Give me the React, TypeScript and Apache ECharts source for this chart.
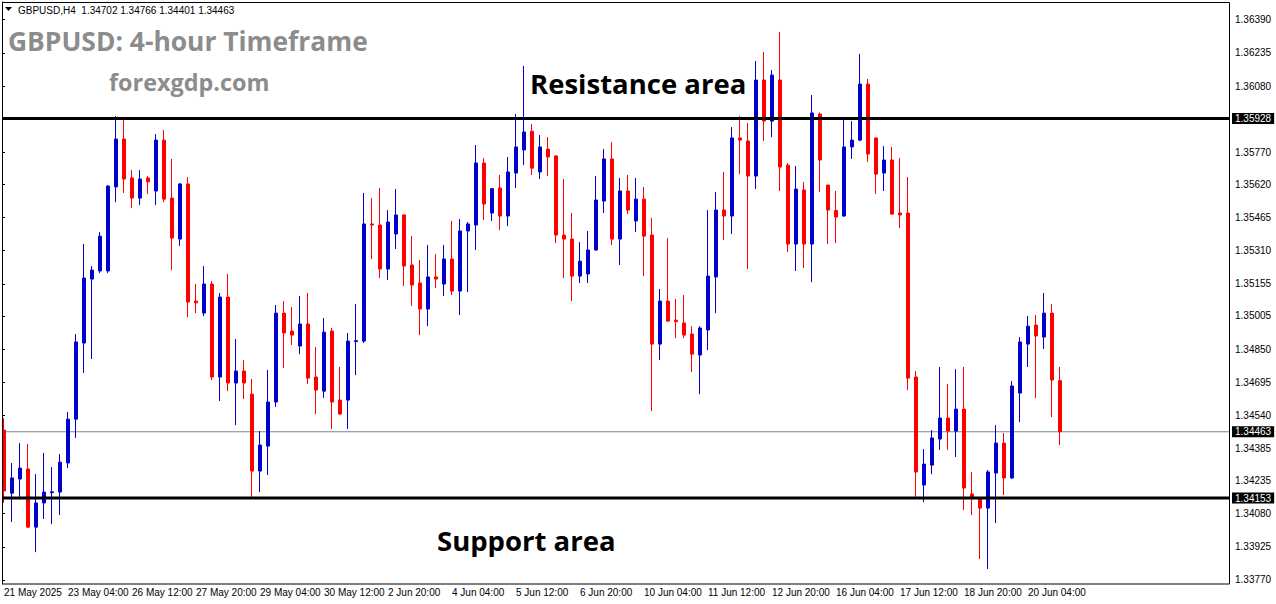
import React, { useEffect, useRef } from 'react';
import * as echarts from 'echarts';

// OHLC of each H4 candle, from 21 May 20:00 to 20 Jun 20:00 (133 candles)
const candleOpen = [
  1.34471, 1.34176, 1.34242, 1.34289, 1.34017, 1.34130, 1.34178, 1.34181, 1.34317, 1.34522, 1.34878, 1.35177, 1.35215,
  1.35215, 1.35608, 1.35832, 1.35650, 1.35556, 1.35650, 1.35589, 1.35827, 1.35556, 1.35364, 1.35622, 1.35074,
  1.35018, 1.35154, 1.34719, 1.35093, 1.34691, 1.34747, 1.34639, 1.34279, 1.34396, 1.34602, 1.35018, 1.34934,
  1.34864, 1.34967, 1.34719, 1.34653, 1.34934, 1.34611, 1.34611, 1.34885, 1.34887, 1.35435, 1.35430, 1.35224,
  1.35388, 1.35477, 1.35243, 1.35159, 1.35037, 1.35187, 1.35154, 1.35271, 1.35121, 1.35402, 1.35430, 1.35720,
  1.35486, 1.35603, 1.35472, 1.35673, 1.35781, 1.35868, 1.35678, 1.35785, 1.35753, 1.35383, 1.35364, 1.35191,
  1.35201, 1.35313, 1.35542, 1.35739, 1.35364, 1.35589, 1.35449, 1.35551, 1.35383, 1.34873, 1.35074, 1.34985,
  1.34972, 1.34920, 1.34822, 1.34939, 1.35187, 1.35500, 1.35472, 1.35837, 1.35823, 1.35659, 1.36108, 1.35916,
  1.36108, 1.35710, 1.35341, 1.35594, 1.35341, 1.35949, 1.35617, 1.35498, 1.35472, 1.35795, 1.35827, 1.36089,
  1.35837, 1.35673, 1.35734, 1.35486, 1.35486, 1.34719, 1.34214, 1.34307, 1.34429, 1.34527, 1.34466, 1.34569,
  1.34172, 1.34148, 1.34106, 1.34270, 1.34410, 1.34247, 1.34644, 1.34873, 1.34962, 1.34906, 1.35018, 1.34702,
];
const candleHigh = [
  1.34527, 1.34317, 1.34410, 1.34406, 1.34265, 1.34364, 1.34298, 1.34359, 1.34555, 1.34920, 1.35341, 1.35238, 1.35397,
  1.35617, 1.35940, 1.35926, 1.35687, 1.35687, 1.35659, 1.35855, 1.35874, 1.35739, 1.35626, 1.35654, 1.35154,
  1.35238, 1.35168, 1.35112, 1.35201, 1.34897, 1.34798, 1.34710, 1.34466, 1.34752, 1.35056, 1.35074, 1.35046,
  1.35098, 1.35112, 1.34859, 1.34995, 1.34948, 1.34766, 1.34925, 1.35060, 1.35580, 1.35556, 1.35603, 1.35500,
  1.35598, 1.35481, 1.35378, 1.35266, 1.35336, 1.35294, 1.35336, 1.35449, 1.35458, 1.35444, 1.35804, 1.35743,
  1.35603, 1.35664, 1.35748, 1.35949, 1.36174, 1.35902, 1.35851, 1.35841, 1.35756, 1.35645, 1.35486, 1.35350,
  1.35402, 1.35659, 1.35785, 1.35818, 1.35650, 1.35664, 1.35650, 1.35608, 1.35463, 1.35131, 1.35369, 1.35084,
  1.35102, 1.34957, 1.34957, 1.35500, 1.35584, 1.35678, 1.35888, 1.35940, 1.35907, 1.36197, 1.36239, 1.36155,
  1.36333, 1.35720, 1.35706, 1.35631, 1.36038, 1.35956, 1.35617, 1.35589, 1.35921, 1.35916, 1.36230, 1.36113,
  1.35840, 1.35799, 1.35795, 1.35743, 1.35654, 1.34747, 1.34382, 1.34471, 1.34766, 1.34686, 1.34756, 1.34766,
  1.34275, 1.34150, 1.34284, 1.34494, 1.34457, 1.34700, 1.34906, 1.35004, 1.35009, 1.35112, 1.35060, 1.34766,
];
const candleLow = [
  1.34130, 1.34041, 1.34158, 1.34013, 1.33900, 1.34055, 1.34031, 1.34074, 1.34293, 1.34434, 1.34738, 1.34803, 1.35205,
  1.35205, 1.35537, 1.35580, 1.35509, 1.35523, 1.35575, 1.35523, 1.35537, 1.35219, 1.35332, 1.34999, 1.35018,
  1.35004, 1.34705, 1.34607, 1.34653, 1.34494, 1.34616, 1.34153, 1.34181, 1.34261, 1.34579, 1.34761, 1.34869,
  1.34826, 1.34686, 1.34546, 1.34621, 1.34476, 1.34541, 1.34476, 1.34728, 1.34878, 1.35271, 1.35182, 1.35173,
  1.35318, 1.35145, 1.35051, 1.34915, 1.34957, 1.35135, 1.35098, 1.35102, 1.35009, 1.35117, 1.35313, 1.35453,
  1.35449, 1.35406, 1.35425, 1.35603, 1.35710, 1.35664, 1.35645, 1.35659, 1.35346, 1.35182, 1.35074, 1.35159,
  1.35159, 1.35310, 1.35486, 1.35336, 1.35243, 1.35481, 1.35397, 1.35191, 1.34560, 1.34798, 1.34976, 1.34901,
  1.34901, 1.34742, 1.34639, 1.34845, 1.35018, 1.35360, 1.35388, 1.35668, 1.35224, 1.35598, 1.35823, 1.35841,
  1.35589, 1.35304, 1.35215, 1.35229, 1.35163, 1.35584, 1.35341, 1.35346, 1.35468, 1.35739, 1.35822, 1.35725,
  1.35575, 1.35589, 1.35478, 1.35416, 1.34658, 1.34158, 1.34134, 1.34265, 1.34378, 1.34378, 1.34345, 1.34097,
  1.34074, 1.33868, 1.33821, 1.34036, 1.34167, 1.34242, 1.34508, 1.34766, 1.34621, 1.34850, 1.34532, 1.34401,
];
const candleClose = [
  1.34186, 1.34247, 1.34293, 1.34017, 1.34130, 1.34181, 1.34182, 1.34321, 1.34522, 1.34883, 1.35182, 1.35219, 1.35378,
  1.35612, 1.35832, 1.35645, 1.35556, 1.35645, 1.35632, 1.35827, 1.35551, 1.35369, 1.35622, 1.35070, 1.35066,
  1.35154, 1.34719, 1.35093, 1.34691, 1.34747, 1.34691, 1.34279, 1.34401, 1.34602, 1.35018, 1.34925, 1.34915,
  1.34967, 1.34714, 1.34658, 1.34929, 1.34602, 1.34546, 1.34887, 1.34889, 1.35435, 1.35430, 1.35224, 1.35444,
  1.35477, 1.35238, 1.35149, 1.35037, 1.35187, 1.35177, 1.35271, 1.35121, 1.35402, 1.35435, 1.35720, 1.35528,
  1.35600, 1.35472, 1.35678, 1.35795, 1.35865, 1.35696, 1.35795, 1.35748, 1.35383, 1.35364, 1.35191, 1.35261,
  1.35313, 1.35547, 1.35739, 1.35364, 1.35589, 1.35500, 1.35551, 1.35378, 1.34873, 1.35074, 1.34981, 1.34978,
  1.34915, 1.34826, 1.34948, 1.35191, 1.35500, 1.35472, 1.35837, 1.35827, 1.35659, 1.36108, 1.35916, 1.36131,
  1.35701, 1.35341, 1.35598, 1.35341, 1.35954, 1.35734, 1.35500, 1.35467, 1.35795, 1.35827, 1.36089, 1.35762,
  1.35668, 1.35734, 1.35481, 1.35477, 1.34714, 1.34275, 1.34312, 1.34434, 1.34527, 1.34466, 1.34569, 1.34200,
  1.34158, 1.34106, 1.34275, 1.34410, 1.34247, 1.34677, 1.34883, 1.34957, 1.34911, 1.35018, 1.34705, 1.34463,
];

const slotCount = 153; // candle slots visible incl. empty right margin
const xTickIndex = [0, 8, 16, 24, 32, 40, 48, 56, 64, 72, 80, 88, 96, 104, 112, 120, 128];
const xTickLabels = [
  '21 May 2025', '23 May 04:00', '26 May 12:00', '27 May 20:00', '29 May 04:00', '30 May 12:00',
  '2 Jun 20:00', '4 Jun 04:00', '5 Jun 12:00', '6 Jun 20:00', '10 Jun 04:00', '11 Jun 12:00',
  '12 Jun 20:00', '16 Jun 04:00', '17 Jun 12:00', '18 Jun 20:00', '20 Jun 04:00',
];
const yTickValues = [
  1.3639, 1.36235, 1.3608, 1.3577, 1.3562, 1.35465, 1.3531, 1.35155, 1.35005, 1.3485,
  1.34695, 1.3454, 1.34385, 1.34235, 1.3408, 1.33925, 1.3377,
];
const resistanceLevel = 1.35928;
const supportLevel = 1.34153;
const lastPrice = 1.34463;
const yMin = 1.33751;
const yMax = 1.36473;

const FONT = 'Liberation Sans, Arial, sans-serif';
const BULL = '#0000CD';
const BEAR = '#FF0000';

export default function App() {
  const ref = useRef<HTMLDivElement>(null);

  useEffect(() => {
    document.body.style.margin = '0';
    const chart = echarts.init(ref.current!, null, { renderer: 'svg' });
    const slots = Array.from({ length: slotCount }, (_, i) => String(i));
    const candleData = candleOpen.map((o, i) => [o, candleClose[i], candleLow[i], candleHigh[i]]);

    const levelSeries = (level: number, color: string, width: number, z: number) => ({
      type: 'line',
      xAxisIndex: 1,
      yAxisIndex: 1,
      data: [[0, level], [1, level]],
      symbol: 'none',
      silent: true,
      z,
      lineStyle: { color, width, type: 'solid' },
      endLabel: {
        show: true,
        formatter: level.toFixed(5),
        color: '#fff',
        backgroundColor: '#000',
        padding: [1, 3, 0, 3],
        fontFamily: FONT,
        fontSize: 10,
        distance: 3,
      },
    });

    const option: any = {
      animation: false,
      backgroundColor: '#fff',
      grid: [
        { left: 0, top: 2, width: 1224, height: 582 },
        { left: 2, top: 2, width: 1227, height: 582 },
      ],
      xAxis: [
        {
          type: 'category',
          gridIndex: 0,
          data: slots,
          boundaryGap: true,
          axisLine: { show: false },
          axisTick: { show: false },
          splitLine: { show: false },
          axisLabel: {
            show: true,
            interval: (index: number) => xTickIndex.indexOf(index) >= 0,
            formatter: (_v: string, index: number) => {
              const k = xTickIndex.indexOf(index);
              return k >= 0 ? xTickLabels[k] : '';
            },
            align: 'left',
            margin: 3,
            color: '#000',
            fontFamily: FONT,
            fontSize: 10,
          },
        },
        { type: 'value', gridIndex: 1, min: 0, max: 1, show: false },
      ],
      yAxis: [
        { type: 'value', gridIndex: 0, min: yMin, max: yMax, show: false },
        {
          type: 'value',
          gridIndex: 1,
          min: yMin,
          max: yMax,
          position: 'right',
          axisLine: { show: true, lineStyle: { color: '#000', width: 1 } },
          axisTick: { show: true, length: 3, customValues: yTickValues, lineStyle: { color: '#000' } },
          axisLabel: {
            customValues: yTickValues,
            formatter: (v: number) => v.toFixed(5),
            margin: 6,
            color: '#000',
            fontFamily: FONT,
            fontSize: 10,
          },
          splitLine: { show: false },
        },
      ],
      series: [
        levelSeries(lastPrice, '#778899', 1, 1),
        {
          type: 'candlestick',
          xAxisIndex: 0,
          yAxisIndex: 0,
          data: candleData,
          barWidth: 4,
          z: 2,
          itemStyle: {
            color: BULL,
            color0: BEAR,
            borderColor: BULL,
            borderColor0: BEAR,
            borderWidth: 1,
          },
          silent: true,
        },
        levelSeries(resistanceLevel, '#000', 3, 3),
        levelSeries(supportLevel, '#000', 3, 3),
      ],
      graphic: [
        { type: 'rect', z: 50, shape: { x: 0, y: 0, width: 2, height: 604 }, style: { fill: '#fff' } },
        {
          type: 'rect', z: 51,
          shape: { x: 2.5, y: 2.5, width: 1227, height: 581.5 },
          style: { fill: 'none', stroke: '#000', lineWidth: 1 },
        },
        { type: 'polygon', z: 52, shape: { points: [[5, 7], [12, 7], [8.5, 11]] }, style: { fill: '#000' } },
        {
          type: 'text', z: 52, x: 18, y: 10,
          style: { text: 'GBPUSD,H4  1.34702 1.34766 1.34401 1.34463', fill: '#000', font: `10px ${FONT}`, verticalAlign: 'middle' },
        },
        {
          type: 'text', z: 52, x: 8, y: 41,
          style: { text: 'GBPUSD: 4-hour Timeframe', fill: '#8c8c8c', font: 'bold 26.4px "Open Sans", sans-serif', verticalAlign: 'middle' },
        },
        {
          type: 'text', z: 52, x: 109, y: 82,
          style: { text: 'forexgdp.com', fill: '#8c8c8c', font: 'bold 23.4px "Open Sans", sans-serif', verticalAlign: 'middle' },
        },
        {
          type: 'text', z: 52, x: 530, y: 83,
          style: { text: 'Resistance area', fill: '#000', font: 'bold 27.5px "Open Sans", sans-serif', verticalAlign: 'middle' },
        },
        {
          type: 'text', z: 52, x: 437, y: 540,
          style: { text: 'Support area', fill: '#000', font: 'bold 27.5px "Open Sans", sans-serif', verticalAlign: 'middle' },
        },
      ],
    };
    chart.setOption(option);
    return () => chart.dispose();
  }, []);

  return <div ref={ref} style={{ width: 1276, height: 604 }} />;
}
